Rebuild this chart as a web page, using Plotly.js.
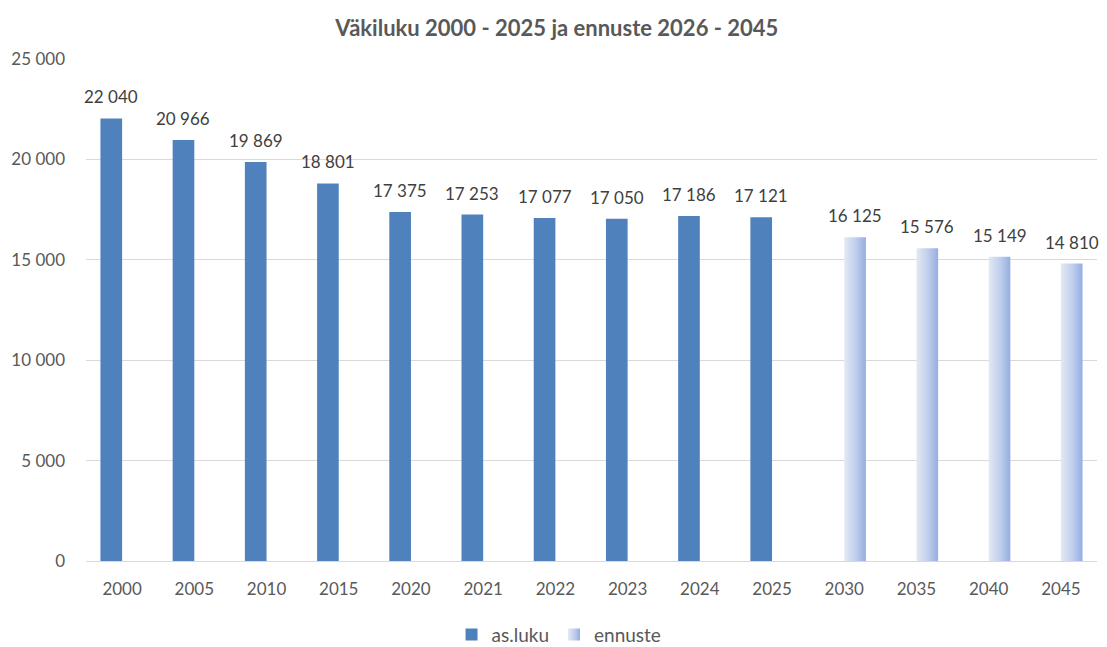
<!DOCTYPE html>
<html>
<head>
<meta charset="utf-8">
<script src="https://cdn.plot.ly/plotly-3.0.1.min.js"></script>
<style>html,body{margin:0;padding:0;background:#fff;}#chart{width:1107px;height:647px;}</style>
</head>
<body>
<div id="chart"></div>
<script>
const categories = ["2000","2005","2010","2015","2020","2021","2022","2023","2024","2025","2030","2035","2040","2045"];
const asLuku   = [22040,20966,19869,18801,17375,17253,17077,17050,17186,17121,null,null,null,null];
const ennuste  = [null,null,null,null,null,null,null,null,null,null,16125,15576,15149,14810];
const yTickVals = [0,5000,10000,15000,20000,25000];
const yTickText = ["0","5 000","10 000","15 000","20 000","25 000"];

const FONT = "Lato, 'Open Sans', sans-serif";
const GREY = "#595959";
const BARGAP = 0.4;

function fmt(v){ return String(v).replace(/\B(?=(\d{3})+(?!\d))/g, " "); }

const annotations = [];
[asLuku, ennuste].forEach(function(series, s){
  series.forEach(function(v, i){
    if (v === null) return;
    const off = (1 - BARGAP) / 4 * (s === 0 ? -1 : 1);
    annotations.push({
      x: i + off, y: v, xref: "x", yref: "y",
      text: fmt(v), showarrow: false, yanchor: "bottom", yshift: 9,
      font: {family: FONT, size: 17, color: "#404040"}
    });
  });
});

const traces = [
  {type: "bar", name: "as.luku", x: categories, y: asLuku,
   marker: {color: "#4F81BD", line: {width: 0}}, hoverinfo: "x+y"},
  {type: "bar", name: "ennuste", x: categories, y: ennuste,
   marker: {color: "#BCCBEB", line: {width: 0}}, hoverinfo: "x+y"}
];

const layout = {
  width: 1107, height: 647,
  margin: {l: 86, r: 10, t: 59, b: 86},
  paper_bgcolor: "#fff", plot_bgcolor: "#fff",
  font: {family: FONT, size: 17, color: GREY},
  separators: ", ",
  title: {text: "<b>Väkiluku 2000 - 2025 ja ennuste 2026 - 2045</b>", x: 0.503, xref: "container",
          y: 0.968, yref: "container", yanchor: "top",
          font: {family: FONT, size: 22, color: GREY}},
  barmode: "group", bargap: BARGAP, bargroupgap: 0,
  xaxis: {type: "category", showgrid: false, showline: true, linecolor: "#d9d9d9", linewidth: 1,
          ticks: "", ticklabelstandoff: 13, tickfont: {family: FONT, size: 17, color: GREY},
          range: [-0.5, 13.5]},
  yaxis: {range: [0, 25000], tickvals: yTickVals, ticktext: yTickText, showgrid: true,
          gridcolor: "#d9d9d9", gridwidth: 1, zeroline: false, showline: false, ticks: "",
          ticklabelstandoff: 20, tickfont: {family: FONT, size: 17, color: GREY}},
  legend: {orientation: "h", x: 0.505, xref: "container", xanchor: "center",
           y: 0.019, yref: "container", yanchor: "middle",
           font: {family: FONT, size: 19, color: GREY}, itemwidth: 30, tracegroupgap: 0},
  annotations: annotations,
  showlegend: true
};

function applyGradient(gd){
  const svg = gd.querySelector("svg.main-svg");
  if (!svg) return;
  let defs = svg.querySelector("defs");
  if (!defs) { defs = document.createElementNS("http://www.w3.org/2000/svg","defs"); svg.insertBefore(defs, svg.firstChild); }
  if (!defs.querySelector("#ennGrad")) {
    const g = document.createElementNS("http://www.w3.org/2000/svg","linearGradient");
    g.setAttribute("id","ennGrad"); g.setAttribute("x1","0"); g.setAttribute("x2","1");
    g.setAttribute("y1","0"); g.setAttribute("y2","0");
    [["0","#E3E9F5"],["0.5","#C3D0EC"],["1","#94AEE3"]].forEach(function(st){
      const s = document.createElementNS("http://www.w3.org/2000/svg","stop");
      s.setAttribute("offset", st[0]); s.setAttribute("stop-color", st[1]); g.appendChild(s);
    });
    defs.appendChild(g);
  }
  const bars = gd.querySelectorAll(".barlayer .trace.bars");
  if (bars[1]) bars[1].querySelectorAll("path").forEach(function(p){ p.style.fill = "url(#ennGrad)"; });
  const leg = gd.querySelectorAll(".legend .traces");
  if (leg[1]) leg[1].querySelectorAll(".legendpoints path").forEach(function(p){ p.style.fill = "url(#ennGrad)"; });
}

const gd = document.getElementById("chart");
Plotly.newPlot(gd, traces, layout, {displayModeBar: false, staticPlot: true}).then(function(){
  applyGradient(gd);
  gd.on("plotly_afterplot", function(){ applyGradient(gd); });
});
</script>
</body>
</html>
